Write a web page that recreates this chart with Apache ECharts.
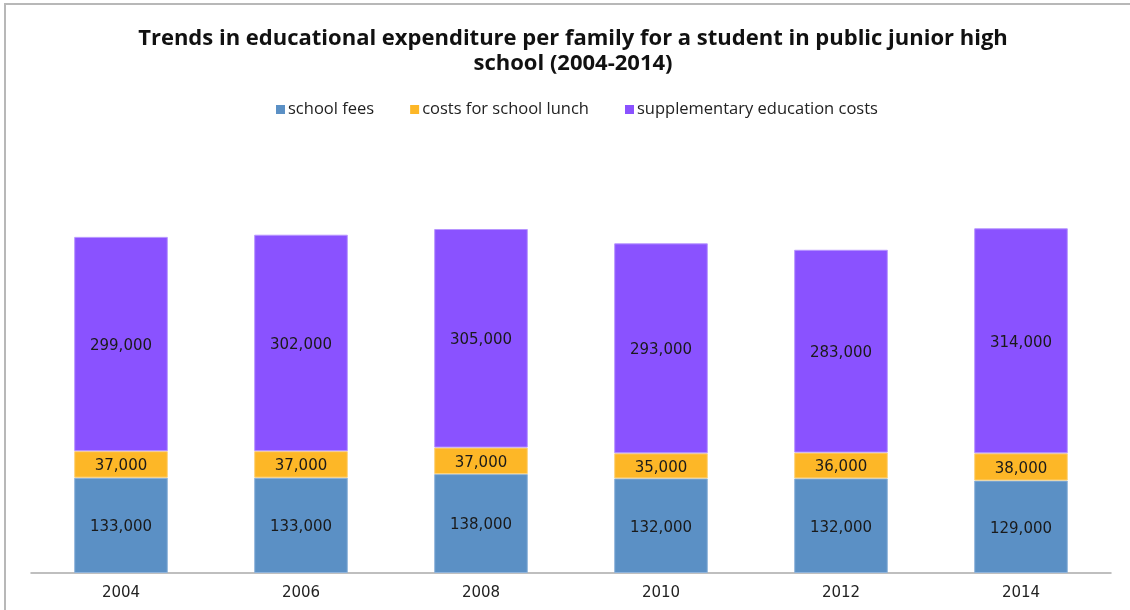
<!DOCTYPE html>
<html>
<head>
<meta charset="utf-8">
<script src="https://cdn.jsdelivr.net/npm/echarts@6/dist/echarts.min.js"></script>
<style>
  html, body { margin: 0; padding: 0; background: #fff; }
  #chart { width: 1130px; height: 610px; }
</style>
</head>
<body>
<div id="chart"></div>
<script>
// Survey years and per-family yearly costs (yen) for a public junior high school student
const years = ['2004', '2006', '2008', '2010', '2012', '2014'];
const schoolFees = [133000, 133000, 138000, 132000, 132000, 129000];
const lunchCosts = [37000, 37000, 37000, 35000, 36000, 38000];
const supplementaryCosts = [299000, 302000, 305000, 293000, 283000, 314000];

const seriesNames = ['school fees', 'costs for school lunch', 'supplementary education costs'];
const seriesColors = ['#5B90C5', '#FDB727', '#8A52FF'];
const edgeColors = ['#8FB3DA', '#FDD27A', '#B795FF'];

const chart = echarts.init(document.getElementById('chart'), null, { renderer: 'canvas' });

const fmt = v => v.toLocaleString('en-US');

function stackSeries(name, values, idx) {
  return {
    name: name,
    type: 'bar',
    stack: 'total',
    barWidth: '52%',
    data: values,
    itemStyle: { color: seriesColors[idx], borderColor: edgeColors[idx], borderWidth: 1 },
    label: {
      show: true,
      position: 'inside',
      offset: [0, 2],
      formatter: p => fmt(p.value),
      fontFamily: 'DejaVu Sans',
      fontSize: 15,
      color: '#1a1a1a'
    },
    emphasis: { disabled: true },
    animation: false
  };
}

chart.setOption({
  animation: false,
  backgroundColor: '#fff',
  title: {
    text: 'Trends in educational expenditure per family for a student in public junior high\nschool (2004-2014)',
    left: 568,
    textAlign: 'center',
    top: 21,
    textStyle: {
      fontFamily: 'Open Sans',
      fontWeight: 'bold',
      fontSize: 22,
      lineHeight: 25,
      color: '#111'
    }
  },
  legend: {
    top: 96,
    left: 271,
    itemWidth: 9,
    itemHeight: 9,
    itemGap: 36,
    icon: 'rect',
    itemStyle: { borderWidth: 0 },
    textStyle: { fontFamily: 'Open Sans', fontSize: 16.5, color: '#222', padding: [0, 0, 0, -2] },
    data: seriesNames
  },
  grid: { left: 31, right: 19, top: 143, bottom: 37 },
  xAxis: {
    type: 'category',
    data: years,
    axisLine: { lineStyle: { color: '#aaa', width: 1.5 } },
    axisTick: { show: false },
    axisLabel: { fontFamily: 'DejaVu Sans', fontSize: 15, color: '#222', margin: 13 }
  },
  yAxis: {
    type: 'value',
    min: 0,
    max: 600000,
    show: false,
    splitLine: { show: false }
  },
  graphic: [{
    type: 'rect',
    shape: { x: 5, y: 4, width: 1200, height: 700 },
    style: { fill: 'none', stroke: '#b8b8b8', lineWidth: 2 },
    silent: true
  }],
  series: [
    stackSeries(seriesNames[0], schoolFees, 0),
    stackSeries(seriesNames[1], lunchCosts, 1),
    stackSeries(seriesNames[2], supplementaryCosts, 2)
  ]
});
</script>
</body>
</html>
